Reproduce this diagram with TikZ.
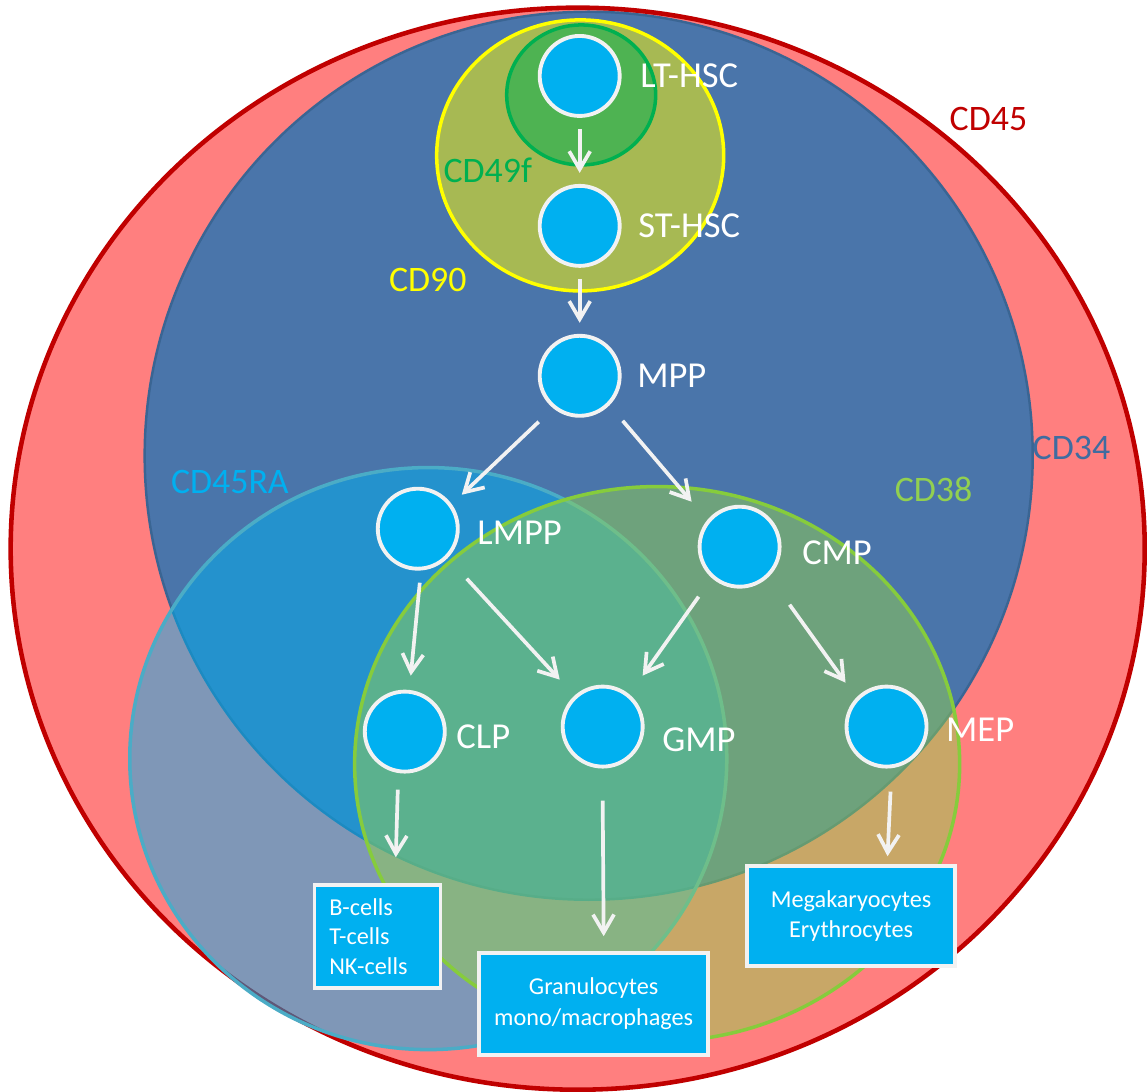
\documentclass[tikz,border=0pt]{standalone}
\usepackage{fontspec}
\setmainfont{Carlito}
\usetikzlibrary{arrows.meta,calc,positioning}

\definecolor{cdred}{HTML}{FF7F7F}
\definecolor{cdredline}{HTML}{C00000}
\definecolor{cdblue}{HTML}{4A75AA}
\definecolor{cdblueline}{HTML}{3A6593}
\definecolor{cdbluetext}{HTML}{3F6CA0}
\definecolor{cellblue}{HTML}{00B0F0}
\definecolor{cellline}{HTML}{F2F2F2}
\definecolor{raline}{HTML}{4BACC6}
\definecolor{cdgreen}{HTML}{92D050}
\definecolor{cdgreenline}{HTML}{86CC3C}
\definecolor{cdolive}{HTML}{A7B953}
\definecolor{cdyellow}{HTML}{FFFF00}
\definecolor{cdleaf}{HTML}{4EB352}
\definecolor{cdleafline}{HTML}{00B050}

\begin{document}
\begin{tikzpicture}[x=0.01cm,y=-0.01cm,>={Straight Barb[length=1.8mm,width=2.1mm]},
        cell/.style={circle,draw=cellline,fill=cellblue,line width=1.1pt,minimum size=0.8cm,inner sep=0pt},
        lbl/.style={text=white,font=\fontsize{10.4}{12}\selectfont,inner sep=0pt},
        marker/.style={font=\fontsize{10.2}{12}\selectfont,inner sep=0pt},
        fate/.style={rectangle,draw=cellline,fill=cellblue,line width=1pt,text=white,inner sep=0pt,font=\fontsize{6.9}{8.4}\selectfont},
        flow/.style={->,draw=cellline,line width=1.05pt}]
        \fill[white] (0,0) rectangle (1147,1092);    % background

        % marker populations
        \draw[fill=cdred,draw=cdredline,line width=1.3pt] (578,549) ellipse [x radius=5.67cm,y radius=5.41cm];
        \draw[fill=cdblue,draw=cdblueline,line width=0.7pt] (589,456) circle [radius=4.44cm];
        \draw[fill=cellblue,fill opacity=.5,draw=raline,line width=1pt] (428.5,759) ellipse [x radius=2.985cm,y radius=2.91cm];
        \draw[fill=cdgreen,fill opacity=.5,draw=cdgreenline,line width=1pt] (657.5,764.5) ellipse [x radius=3.025cm,y radius=2.775cm];
        \draw[fill=cdolive,draw=cdyellow,line width=1pt] (580.5,155.5) ellipse [x radius=1.435cm,y radius=1.355cm];
        \draw[fill=cdleaf,draw=cdleafline,line width=1pt] (581.5,95) ellipse [x radius=0.745cm,y radius=0.70cm];

        \node[marker,text=cdredline] (cd45) at (989,119) {CD45};
        \node[marker,text=cdbluetext] (cd34) at (1072,448) {CD34};
        \node[marker,text=cdyellow] (cd90) at (428,280) {CD90};
        \node[marker,text=cdleafline] (cd49f) at (488,170) {CD49f};
        \node[marker,text=cellblue] (cd45ra) at (230,482) {CD45RA};
        \node[marker,text=cdgreen] (cd38) at (934,490) {CD38};

        % cells
        \node[cell] (lt) at (580,76) {};
        \node[cell] (st) at (580,226) {};
        \node[cell] (mpp) at (580,376) {};
        \node[cell] (lmpp) at (418,529) {};
        \node[cell] (cmp) at (740,547) {};
        \node[cell] (clp) at (405,732) {};
        \node[cell] (gmp) at (603,727) {};
        \node[cell] (mep) at (887,727) {};

        \node[lbl,right=0.18cm of lt] (ltname) {LT-HSC};
        \node[lbl,right=0.16cm of st] (stname) {ST-HSC};
        \node[lbl,right=0.15cm of mpp] (mppname) {MPP};
        \node[lbl,right=0.17cm of lmpp,yshift=-0.04cm] (lmppname) {LMPP};
        \node[lbl,right=0.20cm of cmp,yshift=-0.06cm] (cmpname) {CMP};
        \node[lbl,right=0.09cm of clp,yshift=-0.05cm] (clpname) {CLP};
        \node[lbl,right=0.17cm of gmp,yshift=-0.13cm] (gmpname) {GMP};
        \node[lbl,right=0.17cm of mep,yshift=-0.03cm] (mepname) {MEP};

        % mature cells
        \node[fate,minimum width=1.26cm,minimum height=1.03cm,text width=0.96cm,align=left] (lymph) at (377.5,937) {B-cells\\T-cells\\NK-cells};
        \node[fate,minimum width=2.29cm,minimum height=1.02cm,align=center,font=\fontsize{6.9}{8.8}\selectfont] (gran) at (594,1004.5) {Granulocytes\\mono/macrophages};
        \node[fate,minimum width=2.08cm,minimum height=1.00cm,align=center] (mega) at (851.5,916.5) {Megakaryocytes\\Erythrocytes};

        % arrows
        \draw[flow] ($(lt)+(0,53)$) -- ($(st)+(0,-53)$);
        \draw[flow] ($(st)+(0,53)$) -- ($(mpp)+(0,-53)$);
        \draw[flow] ($(mpp)+(-41,46)$) -- ($(lmpp)+(44,-34)$);
        \draw[flow] ($(mpp)+(43,45)$) -- ($(cmp)+(-48,-45)$);
        \draw[flow] ($(lmpp)+(2,54)$) -- ($(clp)+(6,-56)$);
        \draw[flow] ($(lmpp)+(49,50)$) -- ($(gmp)+(-43,-47)$);
        \draw[flow] ($(cmp)+(-41,50)$) -- ($(gmp)+(40,-51)$);
        \draw[flow] ($(cmp)+(50,58)$) -- ($(mep)+(-41,-44)$);
        \draw[flow] ($(clp)+(-7,58)$) -- ($(lymph.north)+(18.5,-26)$);
        \draw[flow] ($(gmp)+(0,74)$) -- ($(gran.north)+(10,-15)$);
        \draw[flow] ($(mep)+(4,65)$) -- ($(mega.north)+(36.5,-8)$);
\end{tikzpicture}
\end{document}
